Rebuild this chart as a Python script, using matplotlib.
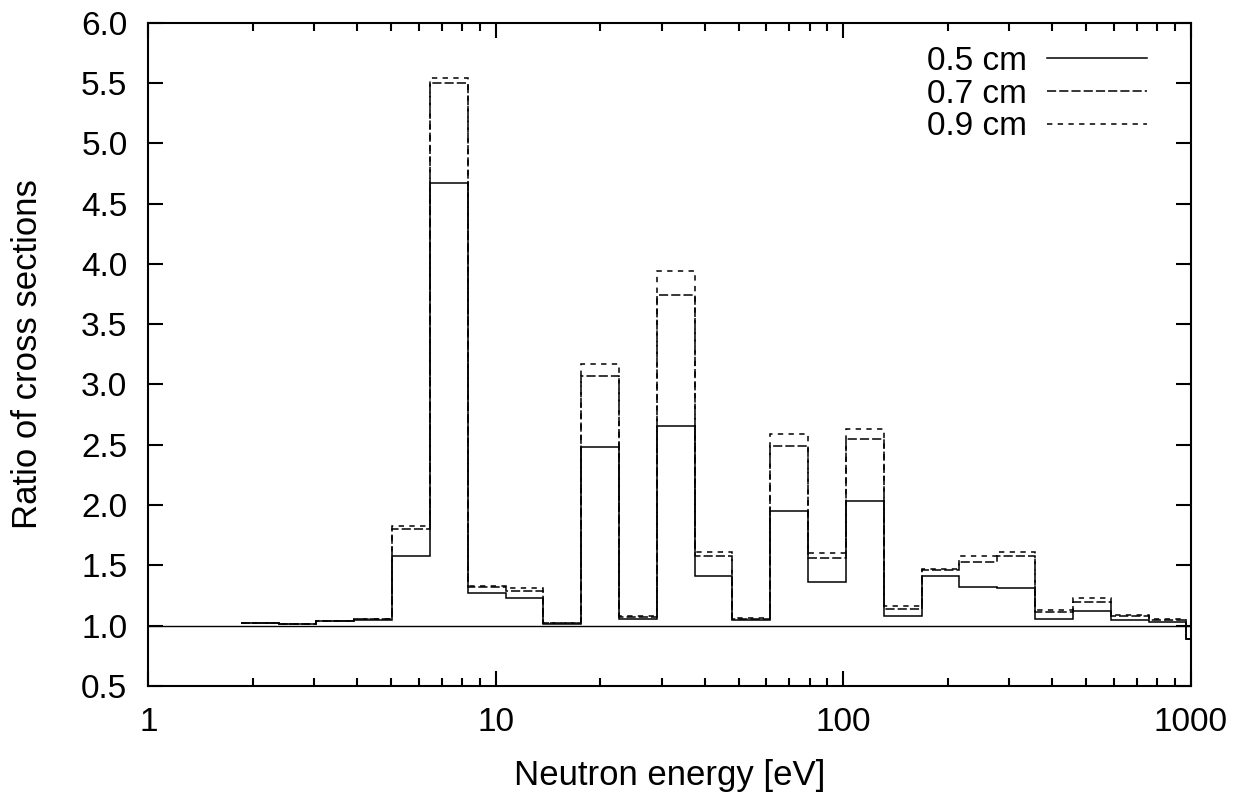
import matplotlib
matplotlib.use("Agg")
import matplotlib.pyplot as plt
from matplotlib.ticker import FixedLocator, NullFormatter, LogLocator

plt.rcParams['font.family'] = ['Liberation Sans', 'DejaVu Sans']

# group boundaries [eV]
edges = [1.845, 2.371, 3.046, 3.914, 5.029, 6.462, 8.303, 10.67, 13.71, 17.61,
         22.63, 29.08, 37.36, 48.01, 61.69, 79.26, 101.8, 130.9, 168.1, 216.1,
         277.6, 356.7, 458.3, 588.9, 756.7, 972.0, 1000.0]

ratio_05 = [1.02, 1.01, 1.035, 1.047, 1.58, 4.67, 1.27, 1.23, 1.01, 2.48,
            1.055, 2.655, 1.41, 1.047, 1.95, 1.36, 2.035, 1.08, 1.41, 1.32,
            1.31, 1.055, 1.125, 1.05, 1.03, 0.89]
ratio_07 = [1.02, 1.01, 1.035, 1.055, 1.80, 5.50, 1.32, 1.29, 1.02, 3.07,
            1.075, 3.745, 1.58, 1.055, 2.49, 1.565, 2.545, 1.14, 1.46, 1.53,
            1.58, 1.11, 1.20, 1.08, 1.047, 0.89]
ratio_09 = [1.02, 1.01, 1.035, 1.055, 1.83, 5.545, 1.33, 1.31, 1.02, 3.17,
            1.08, 3.945, 1.61, 1.06, 2.59, 1.60, 2.635, 1.16, 1.47, 1.58,
            1.61, 1.13, 1.23, 1.09, 1.055, 0.89]

labels = ['0.5 cm', '0.7 cm', '0.9 cm']
styles = ['-', (0, (6, 2)), (0, (3.5, 3.5))]

y_ticks = [0.5 * i for i in range(1, 13)]
x_ticks = [1, 10, 100, 1000]

fig = plt.figure(figsize=(12.47, 7.96), dpi=100)
ax = fig.add_axes([0.1189, 0.1382, 0.8359, 0.8333])

ax.axhline(1.0, color='black', lw=1.0)
for vals, lab, ls in zip([ratio_05, ratio_07, ratio_09], labels, styles):
    ax.stairs(vals, edges, baseline=None, color='black', lw=1.1,
              linestyle=ls, label=lab)

ax.set_xscale('log')
ax.set_xlim(1, 1000)
ax.set_ylim(0.5, 6.0)
ax.xaxis.set_major_locator(FixedLocator(x_ticks))
ax.set_xticklabels([str(v) for v in x_ticks])
ax.xaxis.set_minor_locator(LogLocator(base=10, subs=range(2, 10)))
ax.xaxis.set_minor_formatter(NullFormatter())
ax.set_yticks(y_ticks)
ax.set_yticklabels([f"{v:.1f}" for v in y_ticks])

ax.tick_params(which='both', direction='in', top=True, right=True,
               width=1.5, labelsize=24, pad=15)
ax.tick_params(which='major', length=10.5)
ax.tick_params(which='minor', length=5.5)
for sp in ax.spines.values():
    sp.set_linewidth(1.5)

ax.set_xlabel('Neutron energy [eV]', fontsize=25, labelpad=15)
ax.set_ylabel('Ratio of cross sections', fontsize=25, labelpad=27)

ax.legend(loc='upper right', frameon=False, markerfirst=False, fontsize=24,
          handlelength=3.0, handletextpad=0.6, labelspacing=0.05,
          borderaxespad=0.0, bbox_to_anchor=(0.971, 0.985))

fig.savefig('out.png', dpi=100)
